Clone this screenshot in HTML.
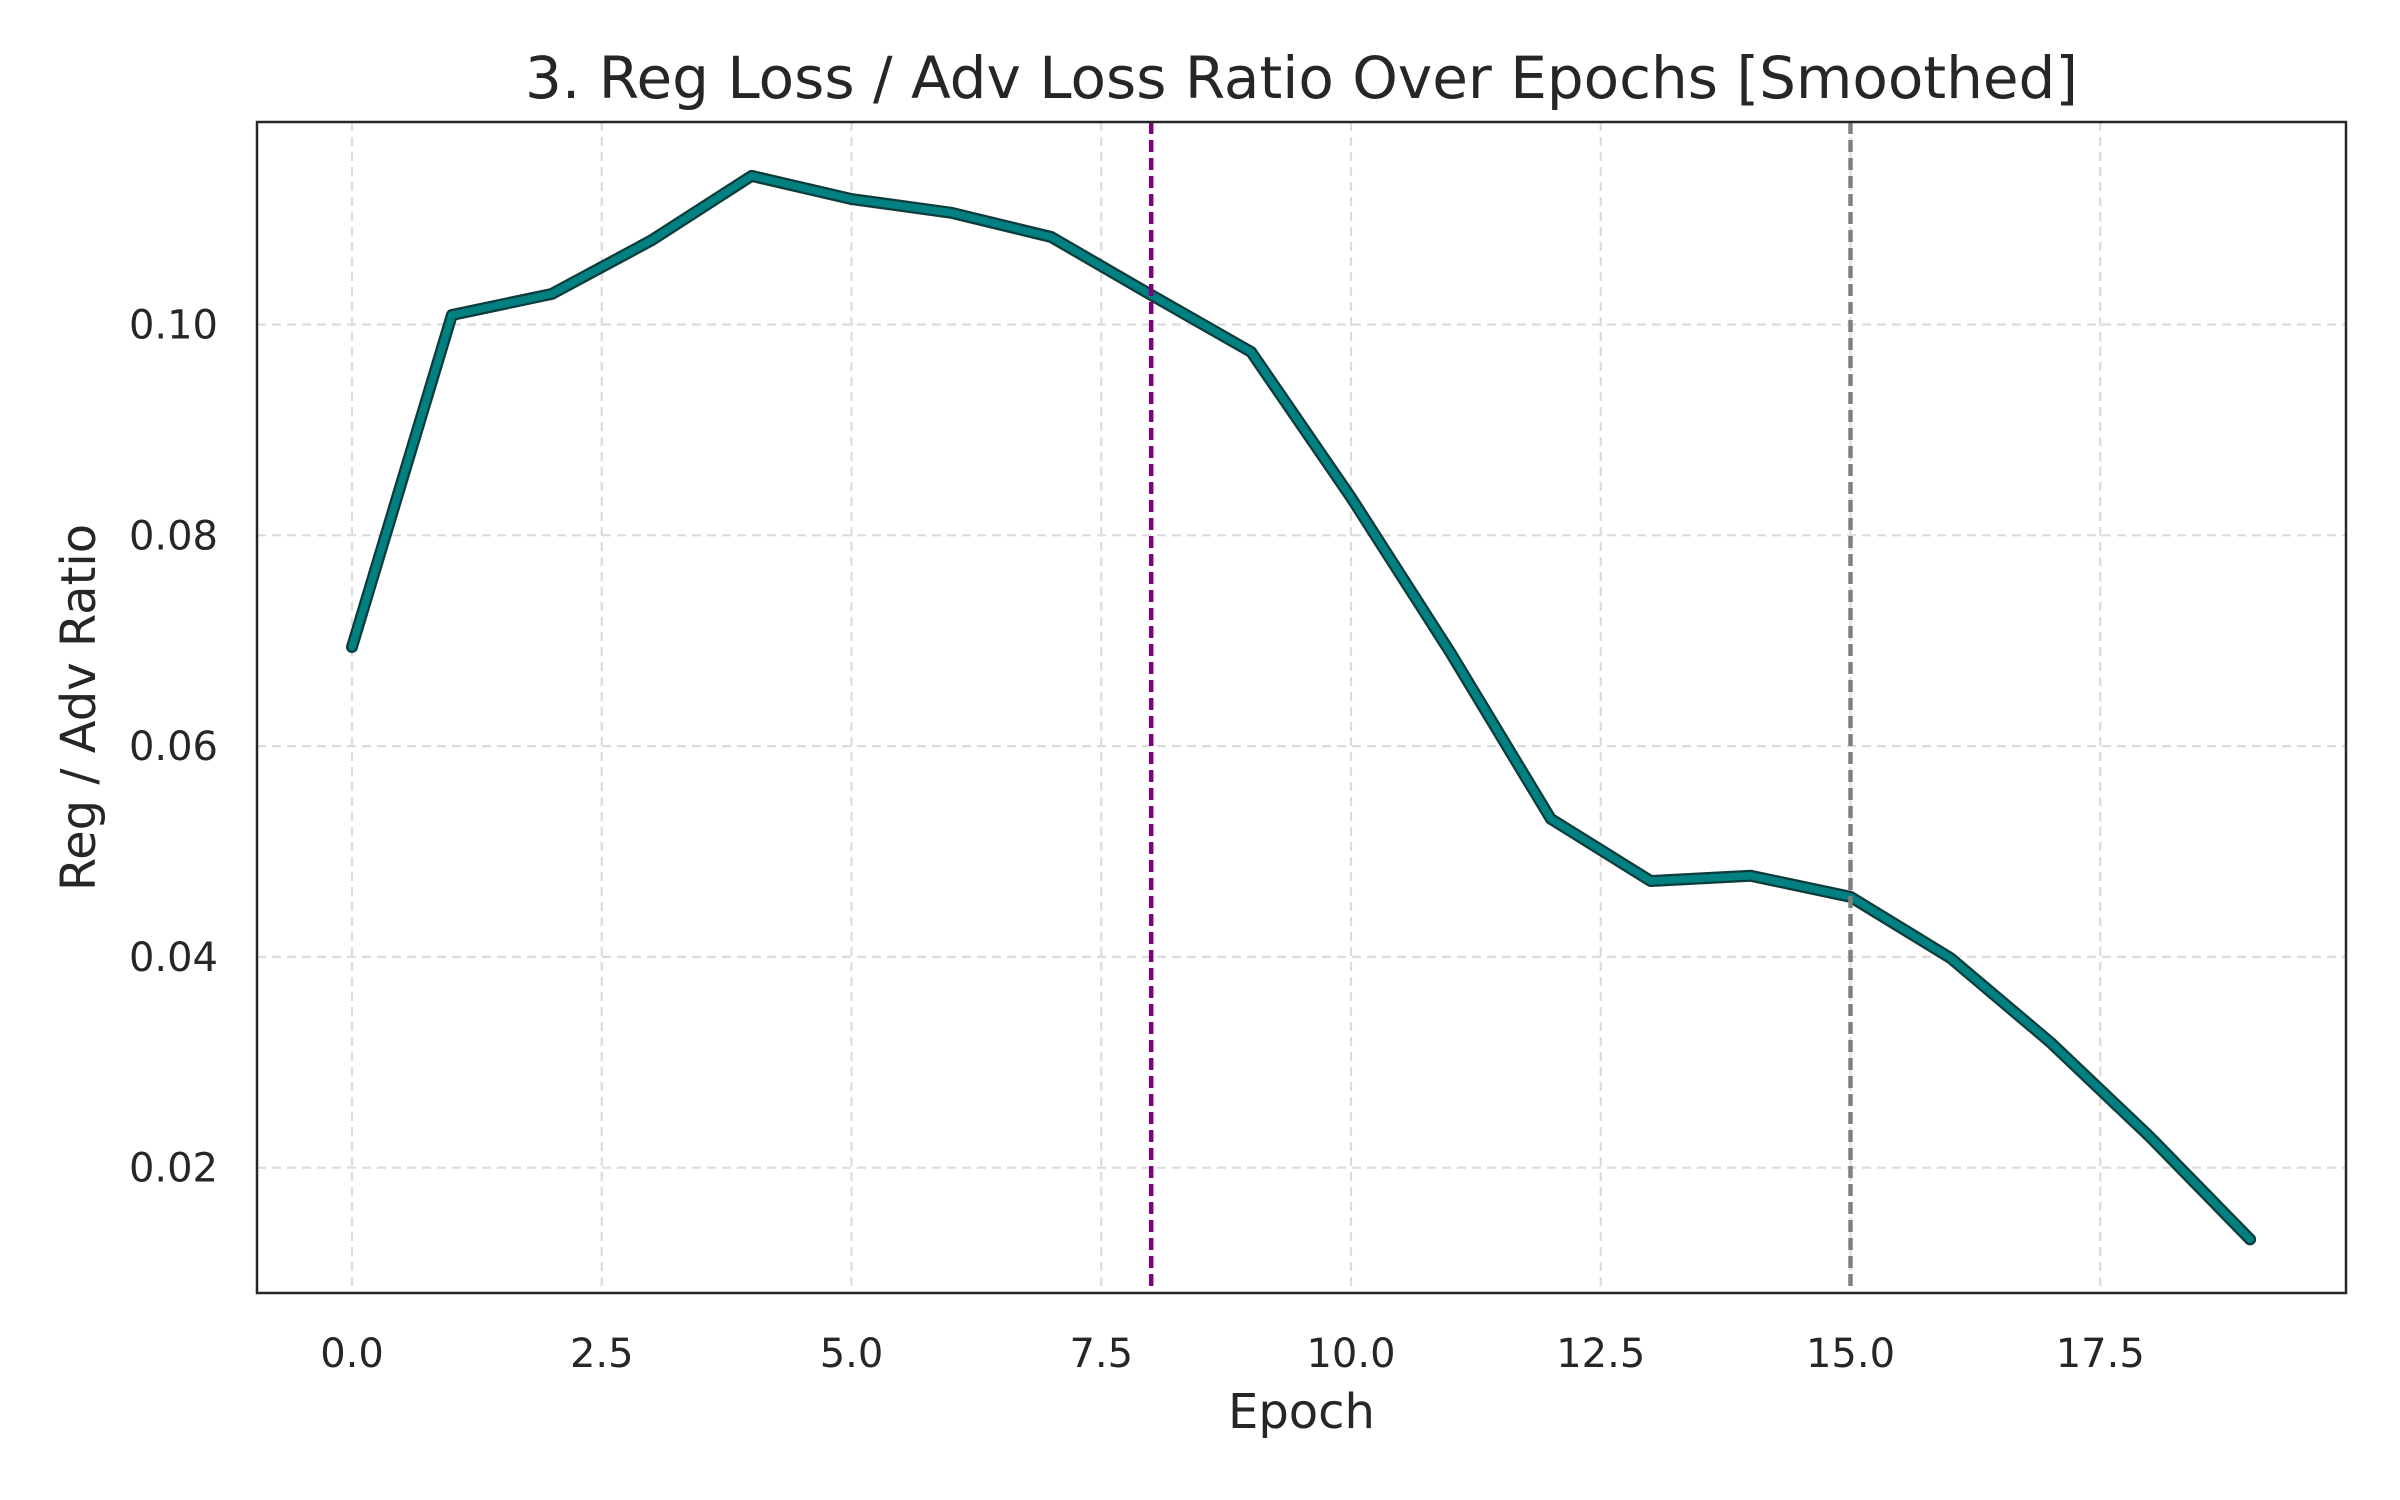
<!DOCTYPE html>
<html><head><meta charset="utf-8"><style>
html,body{margin:0;padding:0;background:#fff;}
svg{display:block;font-family:"DejaVu Sans","Liberation Sans",sans-serif;}
</style></head><body>
<svg id="chart" width="2400" height="1500"></svg>
<script>
const epochs=[0,1,2,3,4,5,6,7,8,9,10,11,12,13,14,15,16,17,18,19];
const ratio=[0.0694,0.1009,0.1029,0.108,0.1141,0.1119,0.1106,0.1083,0.1028,0.0974,0.0836,0.0688,0.0531,0.0472,0.0477,0.0457,0.0399,0.0319,0.0229,0.0132];
const xTicks=[0,2.5,5,7.5,10,12.5,15,17.5];
const yTicks=[0.02,0.04,0.06,0.08,0.10];
const markers=[8,15];
const NS="http://www.w3.org/2000/svg";
const L=257,R=2346,T=122,B=1293;
const sx=v=>352+v*99.9;
const sy=v=>324.5+(0.10-v)*10540;
const svg=document.getElementById('chart');
function mk(t,a,p){const e=document.createElementNS(NS,t);for(const k in a)e.setAttribute(k,a[k]);(p||svg).appendChild(e);return e;}
const grid=mk('g',{});


xTicks.forEach(v=>{
 const l=mk('line',{x1:sx(v),x2:sx(v),y1:T,y2:B,stroke:'#dcdcdc','stroke-width':2.2,'stroke-dasharray':'9,6'},grid);
 
 
 const t=mk('text',{x:sx(v),y:B+74,'text-anchor':'middle','font-size':40,fill:'#262626'});
 t.textContent=v.toFixed(1);
 
 
});
yTicks.forEach(v=>{
 const l=mk('line',{x1:L,x2:R,y1:sy(v),y2:sy(v),stroke:'#dcdcdc','stroke-width':2.2,'stroke-dasharray':'9,6'},grid);
 
 
 const t=mk('text',{x:L-39,y:sy(v)+14,'text-anchor':'end','font-size':40,fill:'#262626'});
 t.textContent=v.toFixed(2);
 
 
});
const pts=epochs.map((e,i)=>sx(e)+','+sy(ratio[i])).join(' ');
const o=mk('polyline',{points:pts,fill:'none',stroke:'#0d3b3b','stroke-width':12,'stroke-linejoin':'round','stroke-linecap':'round'});


const ln=mk('polyline',{points:pts,fill:'none',stroke:'#008080','stroke-width':7.5,'stroke-linejoin':'round','stroke-linecap':'round'});


markers.forEach((m,i)=>{
 const l=mk('line',{x1:sx(m),x2:sx(m),y1:T,y2:B,stroke:i==0?'#800080':'#808080','stroke-width':4.5,'stroke-dasharray':'12,6'});
 
 
});
const fr=mk('rect',{x:L,y:T,width:R-L,height:B-T,fill:'none',stroke:'#262626','stroke-width':2.5});


const ti=mk('text',{x:(L+R)/2,y:98,'text-anchor':'middle','font-size':58,fill:'#262626'});
ti.textContent='3. Reg Loss / Adv Loss Ratio Over Epochs [Smoothed]';


const xl=mk('text',{x:(L+R)/2,y:1428,'text-anchor':'middle','font-size':48,fill:'#262626'});
xl.textContent='Epoch';


const yl=mk('text',{x:0,y:0,'text-anchor':'middle','font-size':48,fill:'#262626',transform:'translate(95,'+((T+B)/2)+') rotate(-90)'});
yl.textContent='Reg / Adv Ratio';


</script>
</body></html>
